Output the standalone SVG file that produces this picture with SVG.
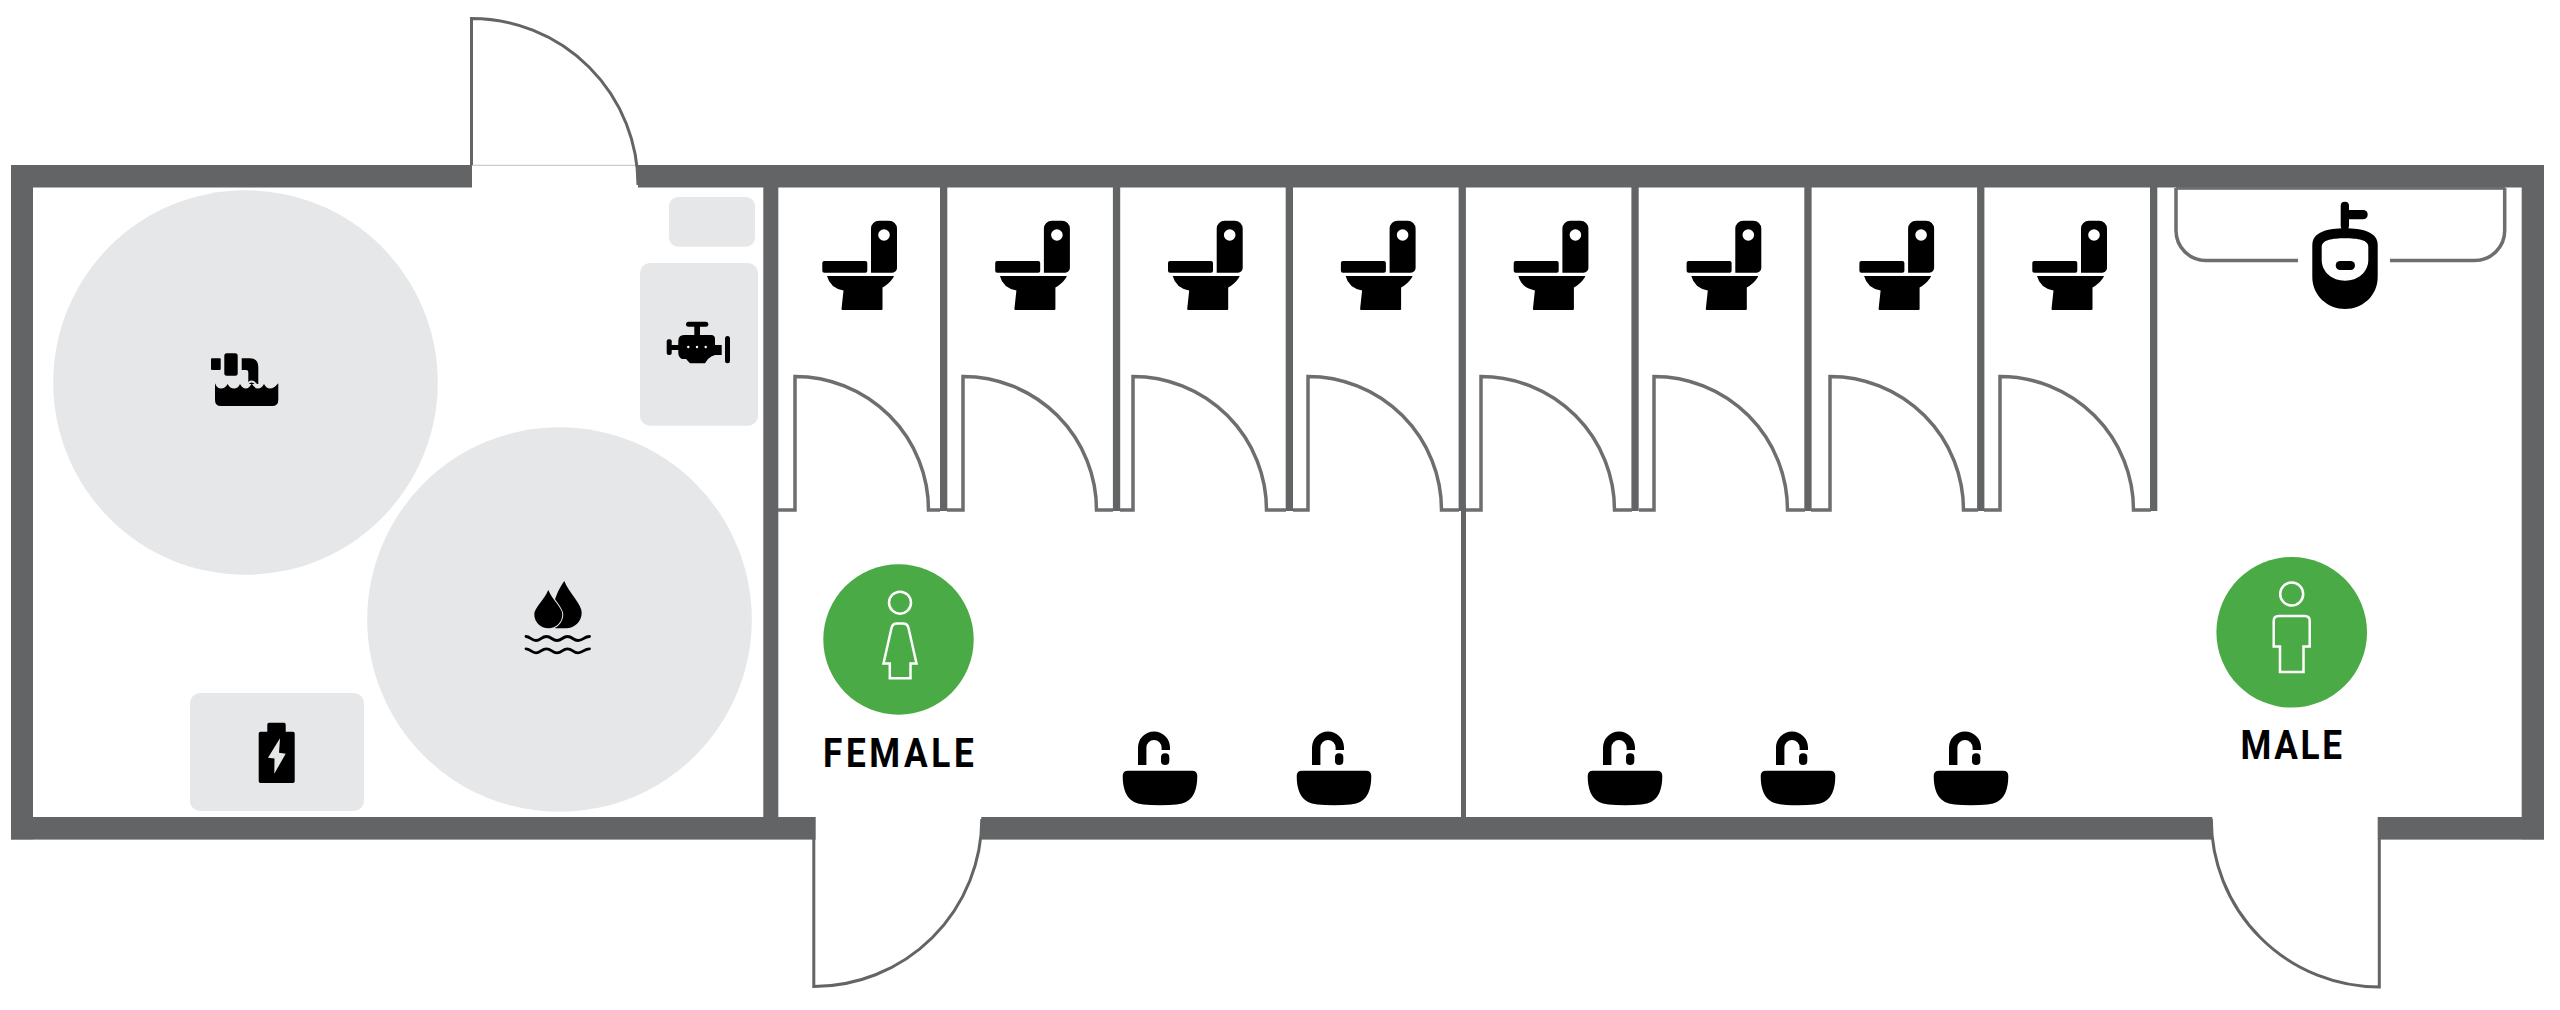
<svg xmlns="http://www.w3.org/2000/svg" width="2560" height="1010" viewBox="0 0 2560 1010">
<style>
.wall{fill:#636466}
.equip{fill:#e6e7e8}
.door{fill:none;stroke:#636466;stroke-width:3}
.stall{fill:none;stroke:#6d6e70;stroke-width:3.5}
.badge{fill:#4aaa45}
.person{fill:none;stroke:#fff;stroke-width:2.5}
.lbl{font-family:"Roboto","Liberation Sans",sans-serif;font-weight:700;font-size:40px;fill:#000}
</style>
<defs>
<g id="toilet">
<path d="M879,220.7h10a8,8 0 0 1 8,8V268a4.7,4.7 0 0 1-4.7,4.7H871V228.7a8,8 0 0 1 8-8z"/>
<circle cx="884" cy="235" r="5.8" fill="#fff"/>
<rect x="822.3" y="261" width="45" height="11.7" rx="2"/>
<path d="M827,276H894L893,278Q889,284 882.5,287.5V309a1,1 0 0 1-1,1H842.5a1,1 0 0 1-1-1L843.5,290.5Q830,288 827,276Z"/>
</g>
<g id="sink">
<path d="M-17.8,765V747.5A11.8,11.8 0 0 1 5.8,747.5V750" fill="none" stroke="#000" stroke-width="8.4"/>
<rect x="1" y="753.3" width="8.3" height="11.7" rx="4"/>
<path d="M-32,770.7H32Q37.3,770.7 37.3,776Q37.3,796 26,802Q20,805.3 0,805.3Q-20,805.3 -26,802Q-37.3,796 -37.3,776Q-37.3,770.7 -32,770.7Z"/>
</g>
</defs>

<g id="walls">
<rect class="wall" x="11" y="165" width="461" height="22.5"/>
<rect class="wall" x="638" y="165" width="1906" height="22.5"/>
<rect class="wall" x="11" y="165" width="22" height="674.3"/>
<rect class="wall" x="2521.7" y="165" width="22.3" height="674.3"/>
<rect class="wall" x="11" y="817" width="804.7" height="22.6"/>
<rect class="wall" x="981.3" y="817" width="1231" height="22.6"/>
<rect class="wall" x="2377.7" y="817" width="166.3" height="22.6"/>
<rect class="wall" x="763.3" y="187" width="15" height="630"/>
<rect class="wall" x="1461" y="505" width="5" height="312"/>
</g>

<g id="partitions">
<rect class="wall" x="940" y="187" width="7.3" height="324"/>
<rect class="wall" x="1112.9" y="187" width="7.3" height="324"/>
<rect class="wall" x="1285.7" y="187" width="7.3" height="324"/>
<rect class="wall" x="1458.6" y="187" width="7.3" height="324"/>
<rect class="wall" x="1631.4" y="187" width="7.3" height="324"/>
<rect class="wall" x="1804.3" y="187" width="7.3" height="324"/>
<rect class="wall" x="1977.1" y="187" width="7.3" height="324"/>
<rect class="wall" x="2150" y="187" width="7.3" height="324"/>
</g>

<g id="doors">
<line x1="472" y1="165.3" x2="638" y2="165.3" stroke="#bdbec0" stroke-width="1"/>
<path id="door-top" class="door" d="M471.5,165V18.5A166.5,166.5 0 0 1 638,185"/>
<path id="door-female" class="door" d="M813.8,839V986.5A168,168 0 0 0 981.8,819"/>
<path id="door-male" class="door" d="M2379.3,839V987A168,168 0 0 1 2211.3,819"/>
<path class="stall" d="M778,510H795V376.5A133.5,133.5 0 0 1 928.5,510H940"/>
<path class="stall" d="M947,510H963V376.5A133.5,133.5 0 0 1 1096.5,510H1113"/>
<path class="stall" d="M1120,510H1133V376.5A133.5,133.5 0 0 1 1266.5,510H1286"/>
<path class="stall" d="M1293,510H1308V376.5A133.5,133.5 0 0 1 1441.5,510H1459"/>
<path class="stall" d="M1466,510H1481V376.5A133.5,133.5 0 0 1 1614.5,510H1632"/>
<path class="stall" d="M1639,510H1654V376.5A133.5,133.5 0 0 1 1787.5,510H1805"/>
<path class="stall" d="M1811,510H1830V376.5A133.5,133.5 0 0 1 1963.5,510H1978"/>
<path class="stall" d="M1984,510H2000V376.5A133.5,133.5 0 0 1 2133.5,510H2151"/>
</g>

<g id="tank-1"><circle class="equip" cx="245.5" cy="382.5" r="192.3"/>
<rect x="211" y="358.3" width="9.7" height="11.7" rx="1"/>
<rect x="224.3" y="353.3" width="13.4" height="22.4" rx="2.5"/>
<path d="M241.7,358.3H250Q258.3,358.3 258.3,367V384H248.3V372Q248.3,370 246,370H241.7Z"/>
<path d="M215,383.3Q217,388.5 221,388.5Q225,388.5 227.7,384Q230,388.5 234,388.5Q238,388.5 240,384Q242.5,388.5 246,388.5Q249,388.5 251.7,383.5Q254.5,388.5 258,388.5Q261.5,388.5 264,384Q266.5,388.5 270,388.5Q274,388.5 278.3,383.3V400Q278.3,406 272,406H221Q215,406 215,400Z"/>
<path d="M245.5,387Q251.7,376 258,387" fill="none" stroke="#e6e7e8" stroke-width="1.8"/>
</g>

<g id="tank-2"><circle class="equip" cx="559.5" cy="619.5" r="192.3"/>
<path d="M564.3,581C569,593 581.7,604 581.7,612.5C581.7,622 574,628.3 566,628.3H556C547,628.3 552,597 564.3,581Z"/>
<path d="M548.3,590C552.5,600 562.3,608 562.3,614.3A14,14 0 0 1 534.3,614.3C534.3,608 544,600 548.3,590Z" stroke="#e6e7e8" stroke-width="2" paint-order="stroke"/>
<path d="M526,636.5C530,636.5 531.5,640.5 536,640.5S541.5,636.5 546.5,636.5 552,640.5 557,640.5 562.5,636.5 567.5,636.5 573,640.5 578,640.5 584,636.5 589.5,636.5" fill="none" stroke="#000" stroke-width="2.8" stroke-linecap="round"/>
<path d="M526,648.8C530,648.8 531.5,652.8 536,652.8S541.5,648.8 546.5,648.8 552,652.8 557,652.8 562.5,648.8 567.5,648.8 573,652.8 578,652.8 584,648.8 589.5,648.8" fill="none" stroke="#000" stroke-width="2.8" stroke-linecap="round"/>
</g>

<g id="battery"><rect class="equip" x="190" y="693" width="174" height="118" rx="10"/>
<path d="M269,722.7H284a1.7,1.7 0 0 1 1.7,1.7V731.7H293a1.7,1.7 0 0 1 1.7,1.7V781.3a1.7,1.7 0 0 1-1.7,1.7H260.4a1.7,1.7 0 0 1-1.7-1.7V733.4a1.7,1.7 0 0 1 1.7-1.7H267.3V724.4a1.7,1.7 0 0 1 1.7-1.7Z"/>
<path d="M280,738.3L268,757.7L274.5,758.5L274.3,773.7L285.7,753.7L279,752.7Z" fill="#e6e7e8"/>
</g>

<g id="panel"><rect class="equip" x="669" y="197" width="86" height="49.7" rx="9"/></g>

<g id="engine"><rect class="equip" x="640" y="263" width="118" height="162.7" rx="10"/>
<rect x="686" y="321.7" width="22.3" height="5" rx="2.5"/>
<rect x="694.3" y="325" width="5.7" height="11"/>
<rect x="666.7" y="339.3" width="5" height="15.7" rx="2"/>
<rect x="671" y="345" width="8" height="5"/>
<rect x="725" y="336" width="5" height="27.3" rx="2.5"/>
<path d="M684,335H711Q715,335 715,339V345H721.7V355H715Q711,356 708,359L705,363.3H690L686,359H682Q678.3,357 678.3,353V341Q678.3,335 684,335Z"/>
<circle cx="688.3" cy="347" r="1.2" fill="#fff"/><circle cx="697" cy="347" r="1.2" fill="#fff"/><circle cx="705.7" cy="347" r="1.2" fill="#fff"/>
</g>

<g id="stalls">
<use id="toilet-1" href="#toilet"/>
<use id="toilet-2" href="#toilet" x="172.9"/>
<use id="toilet-3" href="#toilet" x="345.7"/>
<use id="toilet-4" href="#toilet" x="518.6"/>
<use id="toilet-5" href="#toilet" x="691.4"/>
<use id="toilet-6" href="#toilet" x="864.3"/>
<use id="toilet-7" href="#toilet" x="1037.1"/>
<use id="toilet-8" href="#toilet" x="1210"/>
</g>

<g id="sinks">
<use id="sink-1" href="#sink" x="1160"/>
<use id="sink-2" href="#sink" x="1334"/>
<use id="sink-3" href="#sink" x="1625"/>
<use id="sink-4" href="#sink" x="1798"/>
<use id="sink-5" href="#sink" x="1971"/>
</g>

<g id="urinal">
<path class="stall" d="M2176,188V230.5A30,30 0 0 0 2206,260.5H2298M2390,260.5H2474.7A30,30 0 0 0 2504.7,230.5V188"/>
<rect x="2176" y="187" width="329" height="2.8" fill="#6d6e70"/>
<rect x="2340.7" y="201.7" width="8.3" height="28" rx="4"/>
<rect x="2345" y="210" width="22.7" height="9.3" rx="4.6"/>
<path d="M2345,228.3C2362,228.3 2377.7,232 2377.7,245V277C2377.7,296 2362,309 2345,309S2312.3,296 2312.3,277V245C2312.3,232 2328,228.3 2345,228.3Z"/>
<path d="M2345,238.3C2358,238.3 2368.3,240 2368.3,247V260C2368.3,272 2358,280.7 2345,280.7S2321.7,272 2321.7,260V247C2321.7,240 2332,238.3 2345,238.3Z" fill="#fff"/>
<rect x="2335.7" y="261" width="19.3" height="9" rx="4.5"/>
</g>

<g id="female">
<circle class="badge" cx="898.5" cy="639.5" r="75.2"/>
<circle class="person" cx="900" cy="602.7" r="11"/>
<path class="person" d="M889.8,678.3V663.5H883.5L891.5,628Q892.5,623.5 897,623.5H903Q907.5,623.5 908.5,628L916.5,663.5H910.5V678.3Z"/>
<text class="lbl" transform="translate(823,766.7) scale(.88,1)" letter-spacing="4.1">FEMALE</text>
</g>

<g id="male">
<circle class="badge" cx="2291.7" cy="632.3" r="75.3"/>
<circle class="person" cx="2291.7" cy="594" r="11.5"/>
<path class="person" d="M2280,672V646.5H2273.7V621Q2273.7,616 2278.7,616H2304.7Q2309.7,616 2309.7,621V646.5H2303.5V672Z"/>
<text class="lbl" transform="translate(2240.5,759.3) scale(.88,1)" letter-spacing="3">MALE</text>
</g>
</svg>
